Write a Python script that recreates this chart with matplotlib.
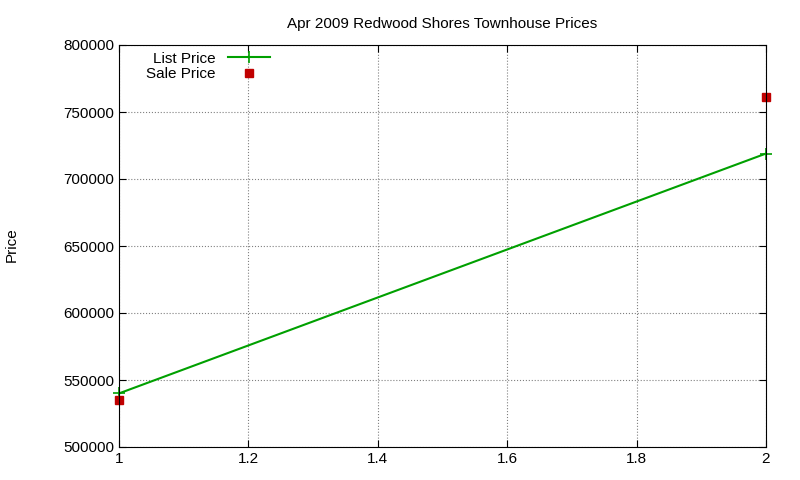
import matplotlib
matplotlib.use("Agg")
import matplotlib.pyplot as plt

list_x = [1, 2]
list_price = [540000, 719000]
sale_x = [1, 2]
sale_price = [535000, 761000]

plt.rcParams['font.family'] = ['Liberation Sans', 'DejaVu Sans']
fig = plt.figure(figsize=(8, 4.8), dpi=100)
ax = fig.add_axes([119/800, 1-447/480, (766-119)/800, (447-45)/480])
ax.plot(list_x, list_price, color='#00a000', lw=1.5, marker='+', ms=8, mew=1.2, label='List Price', clip_on=False)
ax.plot(sale_x, sale_price, ls='none', marker='s', color='#c00000', ms=6, label='Sale Price', clip_on=False)
ax.set_xlim(1, 2)
ax.set_ylim(500000, 800000)
ax.set_xticks([1, 1.2, 1.4, 1.6, 1.8, 2])
ax.set_xticklabels(['1', '1.2', '1.4', '1.6', '1.8', '2'])
ax.set_yticks(range(500000, 800001, 50000))
ax.grid(True, ls=':', color='#808080', lw=0.8)
ax.tick_params(direction='in', labelsize=11, top=True, right=True, length=5)
fig.text(12/800, 1-245/480, 'Price', rotation=90, ha='center', va='center', fontsize=11)
ax.set_title('Apr 2009 Redwood Shores Townhouse Prices', fontsize=11, pad=12)
leg = ax.legend(loc='upper left', bbox_to_anchor=(0.025, 1.01), markerfirst=False, frameon=False,
                fontsize=11, handlelength=2.8, labelspacing=0.1, borderaxespad=0.3)
for t in leg.get_texts():
    t.set_ha('right')
leg._legend_box.align = 'right'
fig.savefig('out.png', dpi=100)
